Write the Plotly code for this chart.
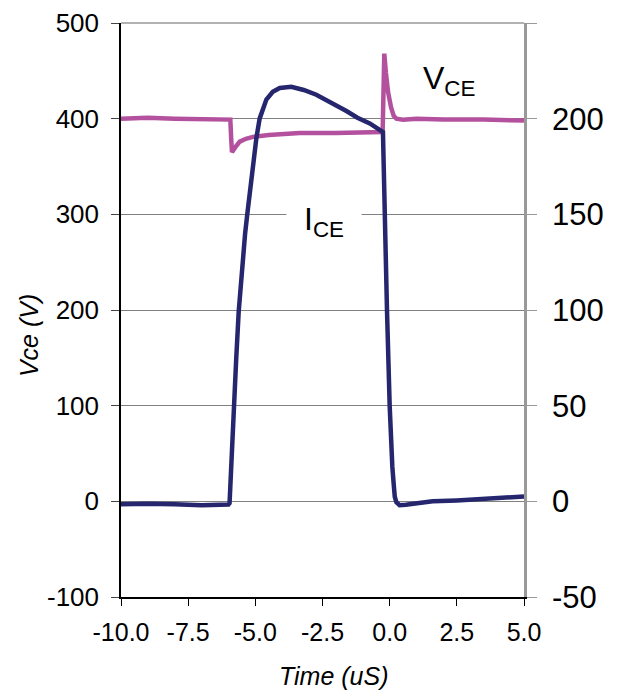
import plotly.graph_objects as go

# Vce trace (left axis, volts)
time_v = [-10, -9, -8, -7, -6.0, -5.93, -5.9, -5.87, -5.75, -5.58, -5.35, -5.09, -4.5,
          -3.35, -2.0, -1.0, -0.3, -0.26, -0.23, -0.2, -0.14, -0.06, 0.05, 0.15, 0.25,
          0.5, 1.0, 2.0, 3.5, 5.0]
vce = [400, 401, 400, 400, 400, 399, 380, 365, 370, 376, 379, 381, 383,
       385, 385, 385, 386, 388, 440, 468, 448, 428, 412, 403, 400,
       399, 400, 399, 399, 398]

# Ice trace (right axis, amps)
time_i = [-10, -9, -8, -7, -6.0, -5.96, -5.93, -5.88, -5.8, -5.71, -5.62, -5.52, -5.46,
          -5.38, -5.3, -5.22, -5.15, -5.05, -4.96, -4.84, -4.72, -4.59, -4.35, -4.09,
          -3.66, -3.2, -2.73, -2.12, -1.61, -1.2, -0.74, -0.25, -0.19, -0.1, 0.0,
          0.05, 0.1, 0.15, 0.19, 0.25, 0.37, 0.6, 1.0, 1.6, 2.5, 3.5, 4.2, 5.0]
ice = [-1.5, -1.2, -1.5, -2.0, -1.7, -1.0, 8, 25, 48, 75, 99, 119, 129,
       140, 150, 160, 168, 180, 190, 200, 205, 210, 214, 216,
       216.7, 215, 212.5, 208, 204, 200.5, 197.5, 193, 150, 100, 50,
       30, 18, 9, 2.4, -0.5, -2, -1.8, -1.2, 0, 0.5, 1.2, 1.8, 2.5]

x_ticks = [-10, -7.5, -5, -2.5, 0, 2.5, 5]
left_ticks = [-100, 0, 100, 200, 300, 400, 500]
right_ticks = [-50, 0, 50, 100, 150, 200, 250]

FONT = "Liberation Sans, Arial, sans-serif"
MAG = "#B4519E"
NAVY = "#25266E"

fig = go.Figure()
fig.add_trace(go.Scatter(x=time_v, y=vce, mode="lines",
                         line=dict(color=MAG, width=4.5), showlegend=False))
fig.add_trace(go.Scatter(x=time_i, y=ice, mode="lines", yaxis="y2",
                         line=dict(color=NAVY, width=4.5), showlegend=False))

fig.update_layout(
    width=613, height=683,
    margin=dict(l=113, r=97, t=15, b=94),
    paper_bgcolor="white", plot_bgcolor="white",
    font=dict(family=FONT, color="black"),
    xaxis=dict(range=[-10, 5], tickvals=x_ticks,
               ticktext=[f"{v:.1f}" for v in x_ticks],
               automargin=False,
               showgrid=False, zeroline=False,
               showline=True, linecolor="black", linewidth=1.5,
               ticks="outside", ticklen=7, tickcolor="black",
               tickfont=dict(size=25, family=FONT), ticklabelstandoff=5),
    yaxis=dict(range=[-100, 500], tickvals=left_ticks,
               ticktext=[str(v) for v in left_ticks],
               automargin=False,
               showgrid=True, gridcolor="#808080", gridwidth=1,
               zeroline=False,
               showline=True, linecolor="black", linewidth=1.5,
               ticks="outside", ticklen=8, tickcolor="#444",
               tickfont=dict(size=26, family=FONT), ticklabelstandoff=7),
    yaxis2=dict(range=[-50, 250], tickvals=right_ticks,
                ticktext=[str(v) for v in right_ticks],
                overlaying="y", side="right", automargin=False,
                showgrid=False, zeroline=False,
                showline=True, linecolor="#999999", linewidth=2.5,
                ticks="outside", ticklen=10, tickcolor="#999999",
                tickfont=dict(size=31, family=FONT), ticklabelstandoff=9),
    shapes=[dict(type="line", xref="paper", yref="paper", x0=0, x1=1, y0=1, y1=1,
                 line=dict(color="#999999", width=1.5))],
    annotations=[
        dict(text="<i>Time (uS)</i>", xref="paper", yref="paper",
             x=0.5285, y=-0.1376, showarrow=False,
             font=dict(size=25, family=FONT), xanchor="center", yanchor="middle"),
        dict(text="<i>Vce (V)</i>", xref="paper", yref="paper",
             x=-0.228, y=0.4547, showarrow=False, textangle=-90,
             font=dict(size=25, family=FONT), xanchor="center", yanchor="middle"),
        dict(text="V<sub>CE</sub>", x=2.2, y=440, showarrow=False,
             font=dict(size=32, family=FONT), xanchor="center", yanchor="middle"),
        dict(text="I<sub>CE</sub>", x=-2.45, y=293, showarrow=False,
             font=dict(size=32, family=FONT), xanchor="center", yanchor="middle",
             bgcolor="white", width=72),
    ],
)

fig.write_html("out.html")
